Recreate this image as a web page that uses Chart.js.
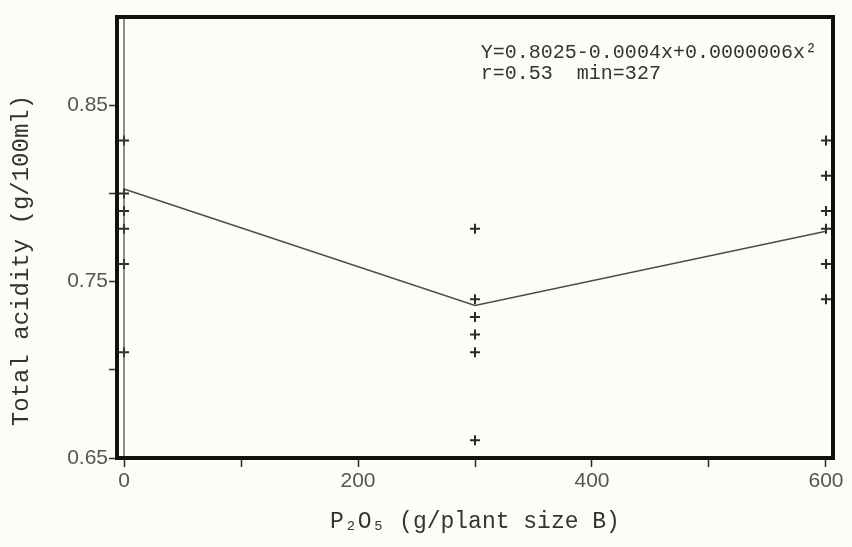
<!DOCTYPE html>
<html>
<head>
<meta charset="utf-8">
<script src="https://cdn.jsdelivr.net/npm/chart.js@4/dist/chart.umd.min.js"></script>
<style>
  html, body { margin: 0; padding: 0; background: #fdfdf8; }
  #wrap { width: 852px; height: 547px; }
</style>
</head>
<body>
<div id="wrap"><canvas id="chart"></canvas></div>
<script>
// P2O5 dose levels and replicate readings
const doses = [0, 300, 600];
const acidity0 = [0.83, 0.80, 0.79, 0.78, 0.76, 0.71];
const acidity300 = [0.78, 0.74, 0.73, 0.72, 0.71, 0.66];
const acidity600 = [0.83, 0.81, 0.79, 0.78, 0.76, 0.74];
const fitValues = [0.8025, 0.7365, 0.7785];

const xTicks = [0, 100, 200, 300, 400, 500, 600];
const xLabels = ['0', '', '200', '', '400', '', '600'];
const yTicks = [0.65, 0.70, 0.75, 0.80, 0.85];
const yLabels = ['0.65', '', '0.75', '', '0.85'];

const yTitle = 'Total acidity (g/100ml)';
const equationLines = ['Y=0.8025-0.0004x+0.0000006x\u00b2', 'r=0.53  min=327'];

const ink = '#2b2b2b';
const monoFont = "'Liberation Mono', 'DejaVu Sans Mono', monospace";
const tickFont = { family: "'Liberation Sans', Arial, sans-serif", size: 21 };

const points = [];
[acidity0, acidity300, acidity600].forEach((vals, i) => {
    vals.forEach(v => points.push({ x: doses[i], y: v }));
});

// frame, zero line, y title and regression text
const framePlugin = {
    id: 'frame',
    afterDatasetsDraw(chart) {
        const { ctx, chartArea: a, scales } = chart;
        ctx.save();
        const x0 = scales.x.getPixelForValue(0);
        ctx.strokeStyle = '#444';
        ctx.lineWidth = 1.2;
        ctx.beginPath();
        ctx.moveTo(x0, a.top);
        ctx.lineTo(x0, a.bottom);
        ctx.stroke();

        ctx.strokeStyle = '#111';
        ctx.lineWidth = 4;
        ctx.strokeRect(a.left, a.top, a.right - a.left, a.bottom - a.top);

        ctx.fillStyle = '#333';
        ctx.font = '20px ' + monoFont;
        ctx.textBaseline = 'middle';
        ctx.textAlign = 'left';
        const ex = scales.x.getPixelForValue(305);
        equationLines.forEach((line, i) => {
            ctx.fillText(line, ex, a.top + 36 + i * 21);
        });

        // y axis title sits a bit below the middle in the original
        ctx.font = '24px ' + monoFont;
        ctx.textAlign = 'center';
        ctx.translate(22, (a.top + a.bottom) / 2 + 23);
        ctx.rotate(-Math.PI / 2);
        ctx.fillText(yTitle, 0, 0);
        ctx.restore();
    }
};

new Chart(document.getElementById('chart'), {
    type: 'scatter',
    data: {
        datasets: [
            {
                label: 'fit',
                type: 'line',
                data: doses.map((d, i) => ({ x: d, y: fitValues[i] })),
                borderColor: '#4a4a4a',
                borderWidth: 1.5,
                pointRadius: 0,
                tension: 0
            },
            {
                label: 'observed',
                data: points,
                pointStyle: 'cross',
                pointRadius: 5,
                borderColor: ink,
                backgroundColor: ink,
                borderWidth: 2
            }
        ]
    },
    options: {
        responsive: true,
        maintainAspectRatio: false,
        animation: false,
        layout: { padding: { top: 17, right: 19, left: 0, bottom: 0 } },
        plugins: {
            legend: { display: false },
            tooltip: { enabled: false }
        },
        scales: {
            x: {
                type: 'linear',
                min: -6,
                max: 606,
                afterBuildTicks: s => { s.ticks = xTicks.map(v => ({ value: v })); },
                afterFit: s => { s.height = 89; },
                border: { display: false },
                grid: {
                    drawOnChartArea: false,
                    drawTicks: true,
                    tickLength: 9,
                    tickColor: ink,
                    tickWidth: 1.5
                },
                ticks: {
                    color: '#555',
                    font: tickFont,
                    padding: 2,
                    maxRotation: 0,
                    callback: (v, i) => xLabels[i]
                },
                title: {
                    display: true,
                    text: 'P\u2082O\u2085 (g/plant size B)',
                    color: '#333',
                    font: { family: monoFont, size: 23 },
                    padding: { bottom: 11 }
                }
            },
            y: {
                type: 'linear',
                min: 0.65,
                max: 0.90,
                afterBuildTicks: s => { s.ticks = yTicks.map(v => ({ value: v })); },
                afterFit: s => { s.width = 117; },
                border: { display: false },
                grid: {
                    drawOnChartArea: false,
                    drawTicks: true,
                    tickLength: 8,
                    tickColor: ink,
                    tickWidth: 1.5
                },
                ticks: {
                    color: '#555',
                    font: tickFont,
                    padding: 1,
                    callback: (v, i) => yLabels[i]
                }
            }
        }
    },
    plugins: [framePlugin]
});
</script>
</body>
</html>
